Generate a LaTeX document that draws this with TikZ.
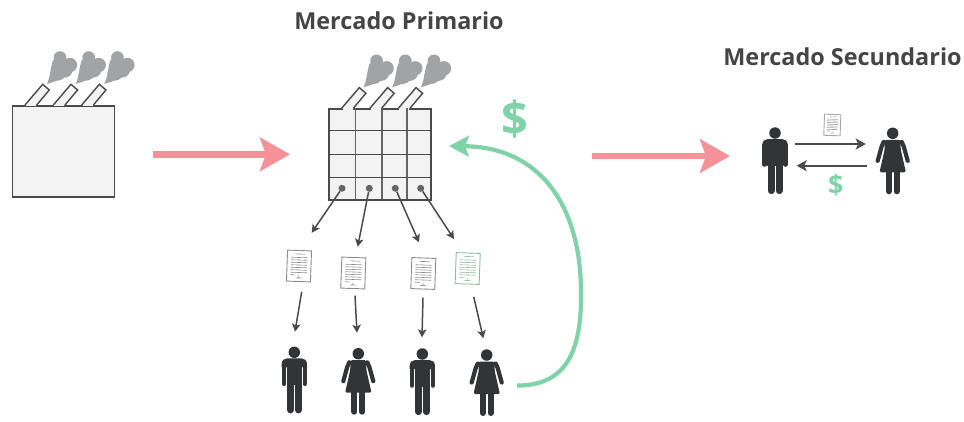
\documentclass[tikz,border=0pt]{standalone}
\usepackage{fontspec}
\setmainfont{Open Sans}
\usetikzlibrary{arrows.meta}
\definecolor{ink}{HTML}{333436}
\definecolor{txt}{HTML}{454545}
\definecolor{redar}{HTML}{F49297}
\definecolor{grn}{HTML}{80D2A8}
\definecolor{smokec}{HTML}{A1A3A5}
\definecolor{boxf}{HTML}{F3F3F3}
\definecolor{lineg}{HTML}{4A4A4A}
\tikzset{
  bigarrow/.style={draw=redar,line width=6.7pt,-{Stealth[length=30pt,width=33.5pt,inset=6pt]}},
  thinarrow/.style={draw=lineg,line width=1.5pt,-{Stealth[length=8pt,width=8.5pt,inset=2pt]}},
  swaparrow/.style={draw=lineg,line width=2pt,-{Stealth[length=10pt,width=11pt,inset=2.5pt]}},
  greenarrow/.style={draw=grn,line width=4.2pt,-{Stealth[length=20pt,width=21pt,inset=4pt]}},
  factbox/.style={draw=lineg,fill=boxf,line width=1.5pt,minimum width=102pt,minimum height=91pt,inner sep=0pt,anchor=north west},
  dotn/.style={circle,fill=lineg!85!white,minimum size=7pt,inner sep=0pt},
  docbox/.style={draw=#1,fill=white,line width=.9pt,minimum width=24pt,minimum height=31pt,inner sep=0pt,transform shape},
  title/.style={text=txt,font=\fontsize{23.4}{26}\selectfont\bfseries,inner sep=0pt},
  bodyf/.style={fill=ink,draw=none},
}
\newcommand{\smokeat}[1]{%
  \begin{scope}[shift={(#1,0)}]
    \fill[smokec] (47,84) .. controls (50,78) and (50,70) .. (53,60) -- (68,60) -- (72,72) .. controls (64,79) and (56,81) .. (47,84) -- cycle;
    \fill[smokec] (60,57.6) circle[radius=6.4];
    \fill[smokec] (70,65) circle[radius=7.2];
    \fill[smokec] (61.5,68) circle[radius=9.8];
    \fill[smokec] (58,73) circle[radius=7.5];
    \fill[smokec] (65,70) circle[radius=7.5];
  \end{scope}}
\newcommand{\chimneyat}[1]{%
  \filldraw[fill=boxf,draw=lineg,line width=1.4pt,shift={(#1,0)}] (25,105) -- (42.7,84.3) -- (49.3,90) -- (36.7,105);}
\newcommand{\factory}[3]{% name, dx, dy
  \begin{scope}[shift={(#2,#3)}]
    \smokeat{0}\smokeat{28.7}\smokeat{57.4}
    \node[factbox] (#1) at (11.7,105) {};
    \fill[boxf] (26,106.2) rectangle (36,104); \fill[boxf] (54.3,106.2) rectangle (64.3,104); \fill[boxf] (82.7,106.2) rectangle (92.6,104);
    \chimneyat{0}\chimneyat{28.3}\chimneyat{56.7}
  \end{scope}}
\newcommand{\man}[3]{% name, x, y of head centre
  \begin{scope}[shift={(#2,#3)}]
    \node[circle,bodyf,minimum size=11.5pt,inner sep=0pt] (#1) at (0,0) {};
    \fill[ink] (-12.6,15) -- (-12.6,11.5) .. controls (-12.6,8) and (-10,6) .. (-7,6) -- (7,6) .. controls (10,6) and (12.6,8) .. (12.6,11.5) -- (12.6,15) -- cycle;
    \fill[ink] (-7.8,12) rectangle (7.8,33);
    \draw[ink,line width=4.4pt,line cap=round] (-10.4,12) -- (-10.4,31.6) (10.4,12) -- (10.4,31.6);
    \draw[ink,line width=7pt,line cap=round] (-4,30) -- (-4,57.6) (4,30) -- (4,57.6);
  \end{scope}}
\newcommand{\woman}[3]{%
  \begin{scope}[shift={(#2,#3)}]
    \node[circle,bodyf,minimum size=11.5pt,inner sep=0pt] (#1) at (0,0) {};
    \fill[ink,rounded corners=1.5pt] (-8,6.5) -- (8,6.5) -- (8,16) -- (13.2,39) -- (-13.2,39) -- (-8,16) -- cycle;
    \draw[ink,line width=4.2pt,line cap=round,line join=round] (-9,8.6) -- (-11,13) -- (-15,27.5) (9,8.6) -- (11,13) -- (15,27.5);
    \draw[ink,line width=6pt,line cap=round] (-3.9,36) -- (-3.9,58) (3.9,36) -- (3.9,58);
  \end{scope}}
\newcommand{\docu}[6]{% name,x,y,rot,scale,colour
  \begin{scope}[shift={(#2,#3)},rotate=#4,scale=#5]
    \node[docbox=#6] (#1) at (0,0) {};
    \draw[#6,line width=.6pt]
      (-4,-12) -- (6,-12) (-8,-8.5) -- (8,-8.5) (-8,-6) -- (8,-6) (-8,-3.5) -- (8,-3.5)
      (-8,-1) -- (8,-1) (-8,1.5) -- (8,1.5) (-8,4) -- (8,4) (-8,6.5) -- (8,6.5)
      (-3,12) -- (3,12) (0,9.5) -- (0,12) (-8,9) -- (-3,9);
  \end{scope}}
\begin{document}
\begin{tikzpicture}[x=1pt,y=-1pt]
\useasboundingbox (0,0) rectangle (964,421);
% titles
\node[title] (t1) at (399,20.5) {Mercado Primario};
\node[title] (t2) at (842.5,57) {Mercado Secundario};
% factories
\factory{f1}{0}{0}
\factory{f2}{316.6}{3.3}
% grid
\begin{scope}[draw=lineg,line width=1.4pt]
  \draw[lineg!85!white] (355.3,108.3) -- (355.3,199.3) (382,108.3) -- (382,199.3) (407,108.3) -- (407,199.3);
  \draw (328.3,130.3) -- (430.3,130.3) (328.3,154.3) -- (430.3,154.3) (328.3,177.3) -- (430.3,177.3);
\end{scope}
\node[dotn] (p1) at (342,188.3) {};
\node[dotn] (p2) at (369.3,188.3) {};
\node[dotn] (p3) at (395.3,188.3) {};
\node[dotn] (p4) at (420.7,188.3) {};
% documents
\docu{d1}{299}{266}{-2}{1}{black!45}
\docu{d2}{353.3}{273}{-2}{1}{black!45}
\docu{d3}{423.3}{273.5}{-2}{1}{black!45}
\docu{d4}{467.7}{268.5}{-2}{1}{grn!70!black!65}
\docu{d5}{832.3}{125}{-2}{0.68}{black!35}
% people
\man{m1}{294.3}{352.3}
\woman{w1}{358.3}{353.7}
\man{m2}{422.3}{354}
\woman{w2}{486.7}{355}
\man{m3}{775}{133}
\woman{w3}{892.7}{133.3}
% connector ends
\coordinate (a1) at (311.7,232.7);
\coordinate (a2) at (357.7,246.7);
\coordinate (a3) at (419,242.3);
\coordinate (a4) at (454,239);
\coordinate (b1s) at (301.7,291.7); \coordinate (b1e) at (295,331.7);
\coordinate (b2s) at (355,295.7);   \coordinate (b2e) at (357,332.7);
\coordinate (b3s) at (423,297.7);   \coordinate (b3e) at (422,337.3);
\coordinate (b4s) at (473.7,296.7); \coordinate (b4e) at (483.3,338.3);
\coordinate (r1s) at (152.7,154.3); \coordinate (r1e) at (290,154.3);
\coordinate (r2s) at (592,156);     \coordinate (r2e) at (730,156);
\coordinate (g1s) at (517,385.5);   \coordinate (g1e) at (449,146);
\coordinate (s1s) at (795,144);     \coordinate (s1e) at (865.7,144);
\coordinate (s2s) at (867.3,165.7); \coordinate (s2e) at (796.7,165.7);
% connectors
\draw[thinarrow] (p1) -- (a1);
\draw[thinarrow] (p2) -- (a2);
\draw[thinarrow] (p3) -- (a3);
\draw[thinarrow] (p4) -- (a4);
\draw[thinarrow] (b1s) -- (b1e);
\draw[thinarrow] (b2s) -- (b2e);
\draw[thinarrow] (b3s) -- (b3e);
\draw[thinarrow] (b4s) -- (b4e);
\draw[bigarrow] (r1s) -- (r1e);
\draw[bigarrow] (r2s) -- (r2e);
\draw[swaparrow] (s1s) -- (s1e);
\draw[swaparrow] (s2s) -- (s2e);
\draw[greenarrow] (g1s) .. controls (570,386) and (582,345) .. (581,290) .. controls (580,205) and (540,147) .. (g1e);
% dollars
\node[text=grn,font=\fontsize{47}{50}\selectfont\bfseries,inner sep=0pt] (usd1) at (515,119.5) {\$};
\node[text=grn,font=\fontsize{27}{29}\selectfont\bfseries,inner sep=0pt] (usd2) at (835.7,185) {\$};
\end{tikzpicture}
\end{document}
